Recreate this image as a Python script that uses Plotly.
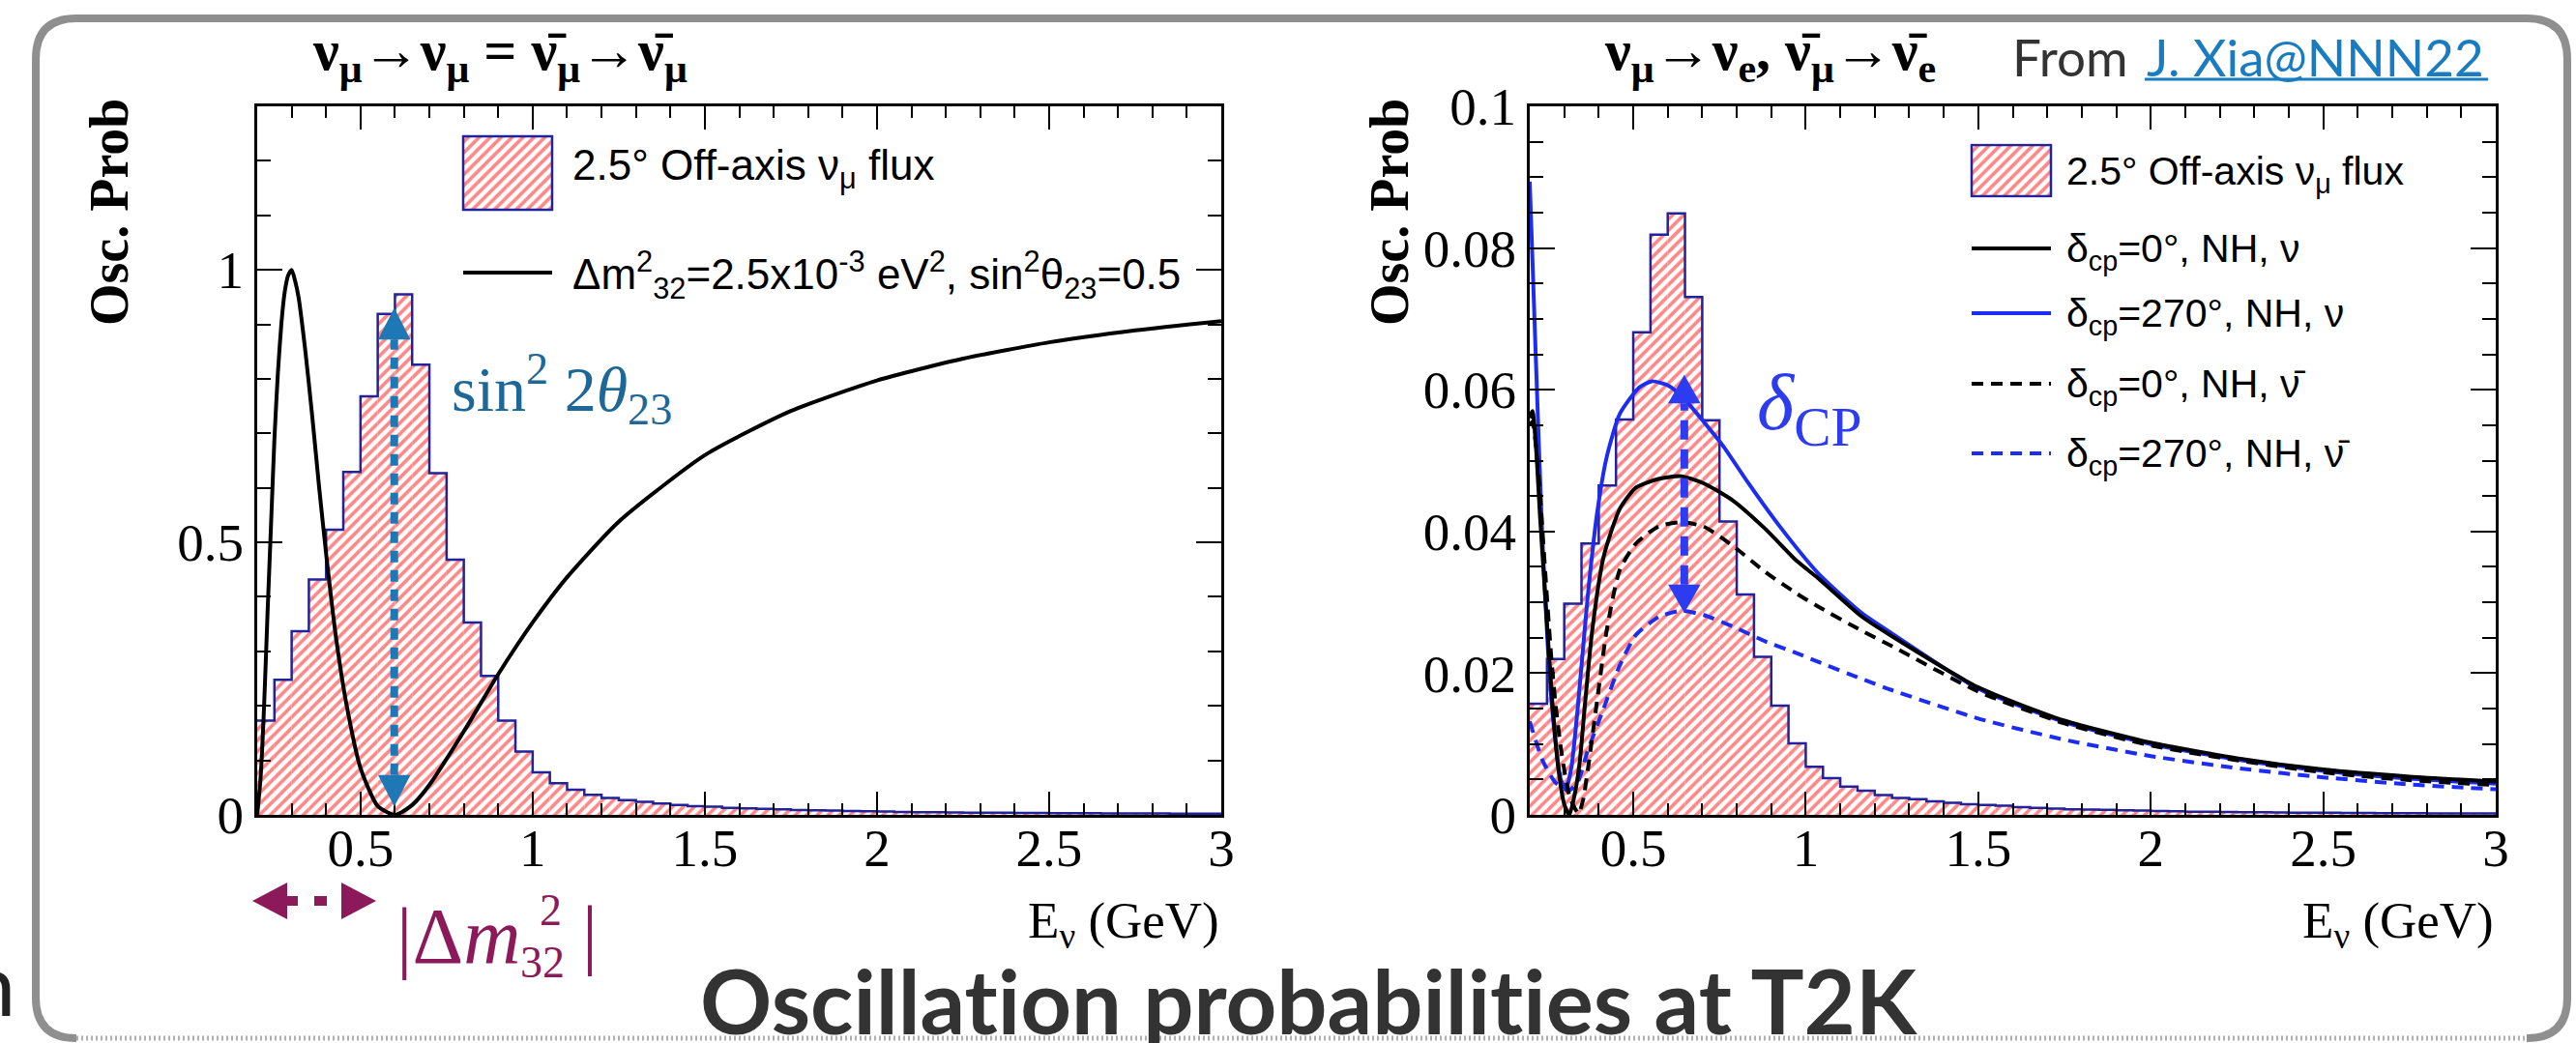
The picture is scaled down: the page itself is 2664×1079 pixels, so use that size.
import plotly.graph_objects as go

W, H = 2664, 1079


def px(x):
    return x / W


def py(y):
    return 1 - y / H


# ---------------- data ----------------
BIN_EDGES = [0.20, 0.25, 0.30, 0.35, 0.40, 0.45, 0.50, 0.55, 0.60, 0.65, 0.70, 0.75,
             0.80, 0.85, 0.90, 0.95, 1.00, 1.05, 1.10, 1.15, 1.20, 1.25, 1.30, 1.35,
             1.40, 1.45, 1.50, 1.55, 1.60, 1.65, 1.70, 1.75, 1.80, 1.85, 1.90, 1.95,
             2.00, 2.05, 2.10, 2.15, 2.20, 2.25, 2.30, 2.35, 2.40, 2.45, 2.50, 2.55,
             2.60, 2.65, 2.70, 2.75, 2.80, 2.85, 2.90, 2.95, 3.00]

FLUX_LEFT = [0.173, 0.248, 0.337, 0.432, 0.523, 0.629, 0.768, 0.919, 0.955, 0.826,
             0.627, 0.468, 0.353, 0.255, 0.173, 0.116, 0.078, 0.058, 0.046, 0.037,
             0.031, 0.027, 0.024, 0.021, 0.018, 0.016, 0.015, 0.013, 0.012, 0.011,
             0.010, 0.009, 0.0085, 0.008, 0.007, 0.0065, 0.006, 0.0055, 0.005, 0.0048,
             0.0045, 0.0042, 0.004, 0.0038, 0.0036, 0.0034, 0.0032, 0.003, 0.0029, 0.0028,
             0.0027, 0.0026, 0.0025, 0.0024, 0.0023, 0.0022]

FLUX_RIGHT = [0.0157, 0.0220, 0.0298, 0.0383, 0.0465, 0.0558, 0.0681, 0.0819, 0.0849, 0.0731,
              0.0557, 0.0414, 0.0311, 0.0223, 0.0154, 0.0101, 0.0068, 0.0052, 0.0040, 0.0034,
              0.0028, 0.0024, 0.0022, 0.0019, 0.0017, 0.0015, 0.0014, 0.0013, 0.0011, 0.0010,
              0.0009, 0.0008, 0.00075, 0.0007, 0.00065, 0.0006, 0.00055, 0.0005, 0.00045, 0.00043,
              0.0004, 0.00038, 0.00036, 0.00034, 0.00032, 0.0003, 0.00029, 0.00027, 0.00026, 0.00025,
              0.00024, 0.00023, 0.00022, 0.00021, 0.0002, 0.0002]

# numu -> numu survival probability
E_DIS = [0.20, 0.21, 0.22, 0.23, 0.24, 0.25, 0.26, 0.27, 0.28, 0.29, 0.30, 0.31, 0.32,
         0.34, 0.36, 0.38, 0.40, 0.43, 0.46, 0.50, 0.55, 0.60, 0.65, 0.70, 0.80, 0.90,
         1.00, 1.10, 1.25, 1.50, 1.75, 2.00, 2.25, 2.50, 2.75, 3.00]
P_DIS = [0.00, 0.07, 0.20, 0.37, 0.53, 0.69, 0.81, 0.90, 0.96, 0.99, 1.00, 0.98, 0.95,
         0.85, 0.73, 0.60, 0.48, 0.32, 0.20, 0.086, 0.016, 0.00, 0.018, 0.055, 0.153, 0.258,
         0.353, 0.436, 0.538, 0.66, 0.741, 0.797, 0.837, 0.867, 0.889, 0.906]

# numu -> nue appearance, delta_cp = 0, NH, nu
E_NU0 = [0.200, 0.208, 0.218, 0.230, 0.246, 0.265, 0.283, 0.300, 0.315, 0.330, 0.345,
         0.358, 0.381, 0.414, 0.461, 0.508, 0.573, 0.638, 0.704, 0.788, 0.882, 0.975,
         1.036, 1.162, 1.25, 1.50, 1.75, 2.00, 2.25, 2.50, 2.75, 3.00]
P_NU0 = [0.056, 0.057, 0.052, 0.042, 0.030, 0.0162, 0.0065, 0.0015, 0.0000, 0.0028, 0.0075,
         0.0145, 0.0260, 0.0364, 0.0432, 0.0462, 0.0474, 0.0478, 0.0468, 0.0444, 0.0404, 0.0358,
         0.0334, 0.0280, 0.0252, 0.0180, 0.0133, 0.0102, 0.0080, 0.0064, 0.0054, 0.0047]

# delta_cp = 270, NH, nu
E_NU270 = [0.200, 0.218, 0.236, 0.255, 0.274, 0.290, 0.305, 0.321, 0.339, 0.367, 0.395,
           0.423, 0.461, 0.517, 0.554, 0.601, 0.648, 0.704, 0.760, 0.834, 0.928, 1.036,
           1.162, 1.25, 1.50, 1.75, 2.00, 2.25, 2.50, 2.75, 3.00]
P_NU270 = [0.0894, 0.064, 0.0397, 0.0214, 0.0105, 0.0050, 0.0036, 0.0068, 0.0150, 0.0303, 0.0425,
           0.0505, 0.0566, 0.0603, 0.0612, 0.0606, 0.0587, 0.0555, 0.0521, 0.0468, 0.0405, 0.0341,
           0.0285, 0.0256, 0.0178, 0.0131, 0.0100, 0.0078, 0.0062, 0.0051, 0.0044]

# delta_cp = 0, NH, anti-nu
E_NUB0 = [0.200, 0.208, 0.218, 0.230, 0.246, 0.262, 0.274, 0.290, 0.302, 0.316, 0.330,
          0.342, 0.355, 0.367, 0.395, 0.423, 0.461, 0.508, 0.573, 0.638, 0.704, 0.788,
          0.882, 0.975, 1.036, 1.162, 1.25, 1.50, 1.75, 2.00, 2.25, 2.50, 2.75, 3.00]
P_NUB0 = [0.055, 0.0555, 0.052, 0.045, 0.0335, 0.0225, 0.016, 0.0095, 0.0058, 0.0025, 0.0010,
          0.0002, 0.0022, 0.0059, 0.0160, 0.0260, 0.0346, 0.0383, 0.0407, 0.0413, 0.0407, 0.0380,
          0.0343, 0.0312, 0.0294, 0.0260, 0.0238, 0.0174, 0.0129, 0.0098, 0.0077, 0.0060, 0.0049, 0.0042]

# delta_cp = 270, NH, anti-nu
E_NUB270 = [0.200, 0.237, 0.274, 0.312, 0.339, 0.367, 0.414, 0.461, 0.508, 0.573, 0.638,
            0.704, 0.788, 0.882, 0.975, 1.036, 1.162, 1.25, 1.50, 1.75, 2.00, 2.25, 2.50,
            2.75, 3.00]
P_NUB270 = [0.0132, 0.0077, 0.0046, 0.0034, 0.0046, 0.0089, 0.0150, 0.0211, 0.0254, 0.0279, 0.0288,
            0.0282, 0.0266, 0.0245, 0.0228, 0.0216, 0.0192, 0.0176, 0.0136, 0.0106, 0.0083, 0.0066,
            0.0053, 0.0043, 0.0036]

X_TICK_STEP = 0.5
# ---------------- styles ----------------
SERIF = "Liberation Serif, Times New Roman, serif"
SANS = "Liberation Sans, Arial, sans-serif"
SLIDE = "Lato, Noto Sans, sans-serif"
RED = "#ff0d0d"
NAVY = "#22229a"
CURVE_BLUE = "#1c2cf2"
ARROW_BLUE = "#2d3cf0"
TEAL = "#1f78b6"
TEAL_TXT = "#1d6897"
MAROON = "#8c1a5a"
HATCH = dict(shape="/", fgcolor=RED, bgcolor="white", size=8, solidity=0.45)

fig = go.Figure()


def add_hist(edges, vals, xa, ya):
    centers = [(a + b) / 2 for a, b in zip(edges[:-1], edges[1:])]
    widths = [b - a for a, b in zip(edges[:-1], edges[1:])]
    fig.add_trace(go.Bar(
        x=centers, y=vals, width=widths, xaxis=xa, yaxis=ya,
        marker=dict(color="white", line=dict(width=0), pattern=HATCH),
        showlegend=False, hoverinfo="skip"))
    fig.add_trace(go.Scatter(
        x=edges, y=list(vals) + [vals[-1]], mode="lines", xaxis=xa, yaxis=ya,
        line=dict(color=NAVY, width=2.5, shape="hv"), showlegend=False, hoverinfo="skip"))


add_hist(BIN_EDGES, FLUX_LEFT, "x", "y")
add_hist(BIN_EDGES, FLUX_RIGHT, "x2", "y2")

fig.add_trace(go.Scatter(x=E_DIS, y=P_DIS, mode="lines", xaxis="x", yaxis="y",
                         line=dict(color="black", width=4, shape="spline", smoothing=0.6),
                         showlegend=False, hoverinfo="skip"))

fig.add_trace(go.Scatter(x=E_NU270, y=P_NU270, mode="lines", xaxis="x2", yaxis="y2",
                         line=dict(color=CURVE_BLUE, width=4, shape="spline", smoothing=0.6),
                         showlegend=False, hoverinfo="skip"))
fig.add_trace(go.Scatter(x=E_NUB270, y=P_NUB270, mode="lines", xaxis="x2", yaxis="y2",
                         line=dict(color=CURVE_BLUE, width=4, dash="12px,8px", shape="spline", smoothing=0.6),
                         showlegend=False, hoverinfo="skip"))
fig.add_trace(go.Scatter(x=E_NUB0, y=P_NUB0, mode="lines", xaxis="x2", yaxis="y2",
                         line=dict(color="black", width=4, dash="12px,8px", shape="spline", smoothing=0.6),
                         showlegend=False, hoverinfo="skip"))
fig.add_trace(go.Scatter(x=E_NU0, y=P_NU0, mode="lines", xaxis="x2", yaxis="y2",
                         line=dict(color="black", width=4, shape="spline", smoothing=0.6),
                         showlegend=False, hoverinfo="skip"))

# legend swatches (hatched boxes) on hidden helper axes
SWATCH_X = [0.5]
SWATCH_Y = [1.0]
for xa, ya in (("x3", "y3"), ("x4", "y4")):
    fig.add_trace(go.Bar(
        x=SWATCH_X, y=SWATCH_Y, width=[1.0], xaxis=xa, yaxis=ya,
        marker=dict(color="white", line=dict(width=2.5, color=NAVY), pattern=HATCH),
        showlegend=False, hoverinfo="skip"))


def axis_common(**kw):
    d = dict(showline=True, linewidth=3, linecolor="black", mirror="allticks",
             ticks="inside", tickwidth=2, tickcolor="black", showgrid=False, zeroline=False,
             tickfont=dict(family=SERIF, size=55, color="black"), fixedrange=True,
             tickmode="linear", automargin=False)
    d.update(kw)
    return d


def minor(step, length):
    return dict(ticks="inside", dtick=step, tick0=0, ticklen=length, tickwidth=2,
                tickcolor="black", showgrid=False)


Y_TOP, Y_BOT = 110, 843


def pad_domain(a, b, frac):
    return [px(a - (b - a) * frac), px(b + (b - a) * frac)]


def hidden(**kw):
    d = dict(visible=False, fixedrange=True, automargin=False, range=[-0.03, 1.03])
    d.update(kw)
    return d


fig.update_layout(
    width=W, height=H, autosize=False, margin=dict(l=0, r=0, t=0, b=0, pad=0, autoexpand=False),
    paper_bgcolor="white", plot_bgcolor="white", showlegend=False,
    xaxis=axis_common(domain=[px(266), px(1263)], range=[0.2, 3.0], tick0=0, dtick=X_TICK_STEP,
                      ticklen=24, minor=minor(0.1, 12), anchor="y", ticklabelstandoff=-16),
    yaxis=axis_common(domain=[py(Y_BOT), py(Y_TOP)], range=[0, 1.3], tick0=0, dtick=0.5,
                      ticklen=26, minor=minor(0.1, 14), anchor="x"),
    xaxis2=axis_common(domain=[px(1582), px(2581)], range=[0.2, 3.0], tick0=0, dtick=X_TICK_STEP,
                       ticklen=24, minor=minor(0.1, 12), anchor="y2", ticklabelstandoff=-16),
    yaxis2=axis_common(domain=[py(Y_BOT), py(Y_TOP)], range=[0, 0.1], tick0=0, dtick=0.02,
                       ticklen=26, minor=minor(0.005, 14), anchor="x2"),
    xaxis3=hidden(domain=pad_domain(479, 571, 0.03), anchor="y3"),
    yaxis3=hidden(domain=[py(217 + 76 * 0.03), py(141 - 76 * 0.03)], anchor="x3"),
    xaxis4=hidden(domain=pad_domain(2039, 2121, 0.03), anchor="y4"),
    yaxis4=hidden(domain=[py(203 + 53 * 0.03), py(150 - 53 * 0.03)], anchor="x4"),
)

ann = []


def text(x, y, s, size, family=SERIF, color="black", xanchor="center", yanchor="middle",
         angle=0, weight="normal"):
    ann.append(dict(x=px(x), y=py(y), xref="paper", yref="paper", text=s, showarrow=False,
                    xanchor=xanchor, yanchor=yanchor, textangle=angle,
                    font=dict(family=family, size=size, color=color, weight=weight)))


NUB = "ν\u0304"
ZW = "\u200c"
# panel titles
text(517, 56, f"ν<sub>μ</sub>→ν<sub>μ</sub> = {NUB}<sub>μ</sub>→{NUB}<sub>μ</sub>", 60, weight="bold")
text(1831, 56, f"ν<sub>μ</sub>→ν<sub>e</sub>, {NUB}<sub>μ</sub>→{NUB}<sub>e</sub>", 60, weight="bold")
# axis titles
text(113, 220, "Osc. Prob", 56, angle=-90, weight="bold")
text(1437, 220, "Osc. Prob", 56, angle=-90, weight="bold")
text(1263, 956, "E<sub>ν</sub> (GeV)", 53, xanchor="right")
text(2581, 956, "E<sub>ν</sub> (GeV)", 53, xanchor="right")
# left legend
text(590, 174, "2.5° Off-axis ν<sub>μ</sub> flux", 44, family=SANS, xanchor="left")
text(590, 284, "Δm<sup>2</sup><sub>32</sub>=2.5x10<sup>-3</sup> eV<sup>2</sup>, sin<sup>2</sup>θ<sub>23</sub>=0.5",
     44, family=SANS, xanchor="left")
# right legend
RIGHT_LEG = [
    ("δ<sub>cp</sub>=0°, NH, ν", 257, "black", "solid"),
    ("δ<sub>cp</sub>=270°, NH, ν", 324, CURVE_BLUE, "solid"),
    (f"δ<sub>cp</sub>=0°, NH, {NUB}", 397, "black", "12px,8px"),
    (f"δ<sub>cp</sub>=270°, NH, {NUB}", 469, CURVE_BLUE, "12px,8px"),
]
text(2135, 180, "2.5° Off-axis ν<sub>μ</sub> flux", 41, family=SANS, xanchor="left")
for lab, yy, col, dash in RIGHT_LEG:
    text(2135, yy + 3, lab, 41, family=SANS, xanchor="left")

# physics annotations
text(465, 402, "sin<sup>2</sup> 2<i>θ</i><sub>23</sub>", 66, color=TEAL_TXT, xanchor="left")
text(1815, 422, "<i>δ</i><sub>CP</sub>", 82, color=ARROW_BLUE, xanchor="left")
text(408, 968, "|Δ<i>m</i>", 82, color=MAROON, xanchor="left")
text(569, 941, "2", 46, color=MAROON)
text(561, 995, "32", 46, color=MAROON)
text(610, 966, "|", 80, color=MAROON)

# slide texts
text(2079, 58, "From", 53, family=SLIDE, color="#333333", xanchor="left")
text(2218, 58, "J. Xia@NNN22", 53, family=SLIDE, color="#1a7cc0", xanchor="left")
text(1354, 1034, f"Oscillat{ZW}ion probabilit{ZW}ies at T2K", 92, family=SLIDE, color="#333333",
     weight="bold")
text(18, 1016, "n", 90, family=SLIDE, color="#222222", xanchor="right")

fig.update_layout(annotations=ann)

shapes = []


def pline(x0, y0, x1, y1, color, width, dash="solid"):
    shapes.append(dict(type="line", xref="paper", yref="paper", x0=px(x0), y0=py(y0),
                       x1=px(x1), y1=py(y1), line=dict(color=color, width=width, dash=dash)))


# legend sample lines
pline(479, 282, 571, 282, "black", 4)
for lab, yy, col, dash in RIGHT_LEG:
    pline(2039, yy, 2121, yy, col, 4, dash)

# link underline
pline(2218, 82, 2573, 82, "#1a7cc0", 3)


def v_double_arrow(xr, yr, x0, ybot, ytop, hh, hw, color, dash, width):
    shapes.append(dict(type="line", xref=xr, yref=yr, x0=x0, x1=x0, y0=ybot + hh, y1=ytop - hh,
                       line=dict(color=color, width=width, dash=dash), layer="above"))
    shapes.append(dict(type="path", xref=xr, yref=yr, layer="above",
                       path=f"M {x0 - hw},{ytop - hh} L {x0 + hw},{ytop - hh} L {x0},{ytop} Z",
                       fillcolor=color, line=dict(width=0)))
    shapes.append(dict(type="path", xref=xr, yref=yr, layer="above",
                       path=f"M {x0 - hw},{ybot + hh} L {x0 + hw},{ybot + hh} L {x0},{ybot} Z",
                       fillcolor=color, line=dict(width=0)))


v_double_arrow("x", "y", 0.598, 0.015, 0.93, 0.058, 0.047, TEAL, "12px,8px", 8)
v_double_arrow("x2", "y2", 0.648, 0.0285, 0.0621, 0.0040, 0.047, ARROW_BLUE, "20px,10px", 8)

# maroon horizontal double arrow (|dm2| marker)
AY = 932
shapes.append(dict(type="line", xref="paper", yref="paper", x0=px(295), x1=px(355), y0=py(AY), y1=py(AY),
                   line=dict(color=MAROON, width=10, dash="13px,17px")))
shapes.append(dict(type="path", xref="paper", yref="paper", fillcolor=MAROON, line=dict(width=0),
                   path=f"M {px(261)},{py(AY)} L {px(297)},{py(AY - 19)} L {px(297)},{py(AY + 19)} Z"))
shapes.append(dict(type="path", xref="paper", yref="paper", fillcolor=MAROON, line=dict(width=0),
                   path=f"M {px(389)},{py(AY)} L {px(353)},{py(AY - 19)} L {px(353)},{py(AY + 19)} Z"))

# slide border
L, R, T, B, r = 37, 2655, 19, 1074, 42
border = (f"M {px(L + r)},{py(B)} Q {px(L)},{py(B)} {px(L)},{py(B - r)} "
          f"L {px(L)},{py(T + r)} Q {px(L)},{py(T)} {px(L + r)},{py(T)} "
          f"L {px(R - r)},{py(T)} Q {px(R)},{py(T)} {px(R)},{py(T + r)} "
          f"L {px(R)},{py(B - r)} Q {px(R)},{py(B)} {px(R - r)},{py(B)}")
shapes.append(dict(type="path", xref="paper", yref="paper", path=border,
                   line=dict(color="#8f8f8f", width=8)))
pline(L + r, B, R - r, B, "#b0b0b0", 5, "2px,3px")

fig.update_layout(shapes=shapes)

fig.write_html("out.html")
